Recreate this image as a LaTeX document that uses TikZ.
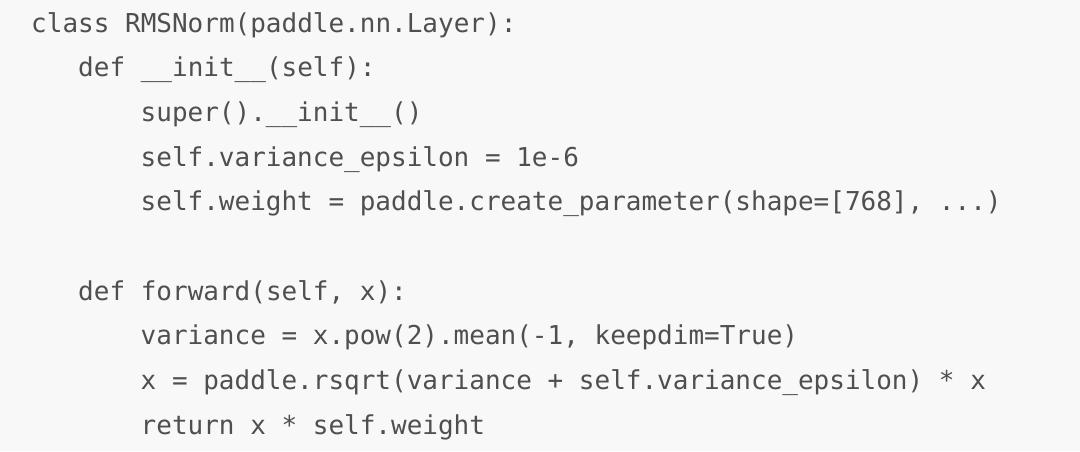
\documentclass[tikz,border=0pt]{standalone}
\usepackage{fontspec}
\newfontfamily\codefont{DejaVu Sans Mono}
\usepackage{xcolor}
\definecolor{codebg}{HTML}{F8F8F8}
\definecolor{codefg}{HTML}{4F4F4F}
\tikzset{
  codeline/.style={anchor=base west, inner sep=0pt, text=codefg,
    font=\codefont\fontsize{26}{30}\selectfont}
}

\begin{document}
\begin{tikzpicture}[x=1pt,y=1pt]

    \fill[codebg] (0,0) rectangle (1080,-451);
    \useasboundingbox (0,0) rectangle (1080,-451);

    \node[codeline] (cls) at (31,-32) {class RMSNorm(paddle.nn.Layer):};
    \node[codeline] (init) at (78,-76.7) {def \_\_init\_\_(self):};
    \node[codeline] (super) at (140.5,-121.3) {super().\_\_init\_\_()};
    \node[codeline] (eps) at (140.5,-166) {self.variance\_epsilon = 1e-6};
    \node[codeline] (wgt) at (140.5,-210.7) {self.weight = paddle.create\_parameter(shape=[768], ...)};

    \node[codeline] (fwd) at (78,-300) {def forward(self, x):};
    \node[codeline] (var) at (140.5,-344.7) {variance = x.pow(2).mean(-1, keepdim=True)};
    \node[codeline] (rsq) at (140.5,-389.3) {x = paddle.rsqrt(variance + self.variance\_epsilon) * x};
    \node[codeline] (ret) at (140.5,-434) {return x * self.weight};
  \end{tikzpicture}
\end{document}
